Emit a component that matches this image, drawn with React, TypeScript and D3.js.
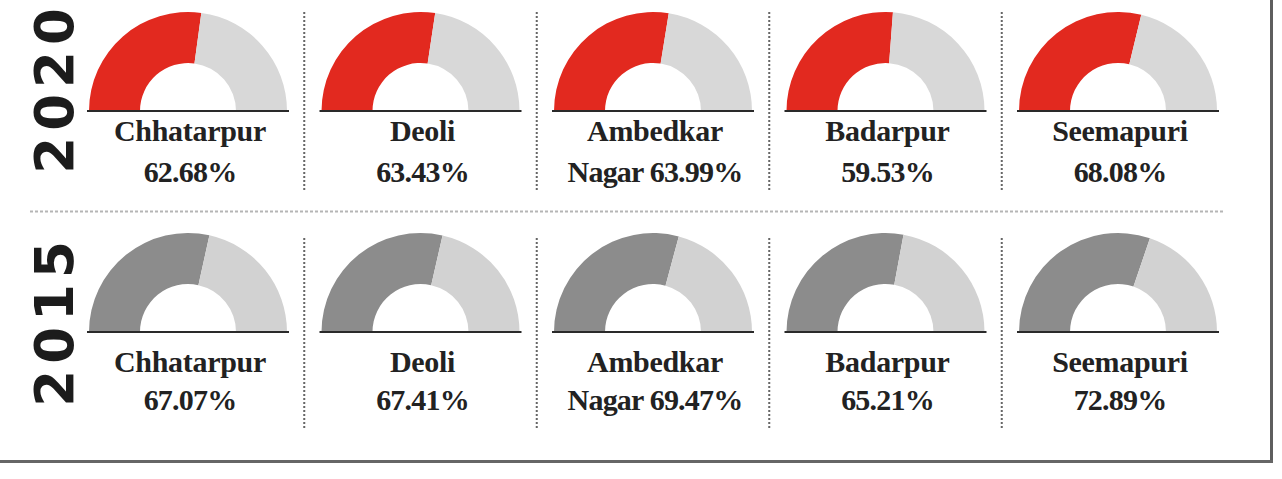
import React from "react";
import * as d3 from "d3";

const years = ["2020", "2015"];
const constituencies = ["Chhatarpur", "Deoli", "Ambedkar Nagar", "Badarpur", "Seemapuri"];
const turnout2020 = [62.68, 63.43, 63.99, 59.53, 68.08];
const turnout2015 = [67.07, 67.41, 69.47, 65.21, 72.89];
const turnoutByYear = [turnout2020, turnout2015];

const W = 1282;
const H = 479;
const fillColors = ["#e2291f", "#8c8c8c"];
const restColors = ["#d8d8d8", "#d2d2d2"];

export default function App() {
  const x = d3.scalePoint<string>().domain(constituencies).range([188, 1118]);
  const rowBase = d3.scalePoint<string>().domain(years).range([111, 332]);
  // gauge calibration (split angles as drawn)
  const angle = d3.scaleLinear().domain([-27.4, 138.5]).range([-Math.PI / 2, Math.PI / 2]);
  const outerR = 99;
  const innerR = 48;
  const arc = d3.arc<{ s: number; e: number }>()
    .innerRadius(innerR)
    .outerRadius(outerR)
    .startAngle((d) => d.s)
    .endAngle((d) => d.e);

  const step = x.step();
  const seps = constituencies.slice(0, -1).map((c) => (x(c) as number) + step / 2);
  const nameOffset = 30;
  const pctOffset = 71;
  const rowSepRanges = [
    [12, 190],
    [238, 428],
  ];

  return (
    <svg
      width={W}
      height={H}
      style={{ position: "absolute", left: 0, top: 0, display: "block", background: "#fff" }}
    >
      <rect x={0} y={0} width={W} height={H} fill="#fff" />
      {/* frame */}
      <line x1={1271.5} y1={0} x2={1271.5} y2={463} stroke="#5e5e5e" strokeWidth={3} />
      <line x1={0} y1={461.5} x2={1273} y2={461.5} stroke="#666" strokeWidth={3} />
      {/* horizontal separator */}
      <line x1={30} y1={211.5} x2={1224} y2={211.5} stroke="#b5b5b5" strokeWidth={2} strokeDasharray="3 2" />
      {years.map((yr, ri) => {
        const base = rowBase(yr) as number;
        const vals = turnoutByYear[ri];
        const [sy0, sy1] = rowSepRanges[ri];
        return (
          <g key={yr}>
            <text
              transform={`translate(73, ${ri === 0 ? 88 : 321}) rotate(-90)`}
              textAnchor="middle"
              fontFamily="'DejaVu Sans', sans-serif"
              fontWeight="bold"
              fontSize={53}
              letterSpacing={6}
              fill="#1c1c1c"
            >
              {yr}
            </text>
            {seps.map((sx, i) => (
              <line
                key={i}
                x1={sx}
                x2={sx}
                y1={sy0}
                y2={sy1}
                stroke="#666"
                strokeWidth={2}
                strokeDasharray="2 2"
              />
            ))}
            {constituencies.map((c, i) => {
              const cx = x(c) as number;
              const v = vals[i];
              const a = angle(v);
              const words = c.split(" ");
              const line1 = words[0];
              const line2 = (words.length > 1 ? words.slice(1).join(" ") + " " : "") + v.toFixed(2) + "%";
              return (
                <g key={c}>
                  <g transform={`translate(${cx}, ${base})`}>
                    <path d={arc({ s: -Math.PI / 2, e: a }) as string} fill={fillColors[ri]} />
                    <path d={arc({ s: a, e: Math.PI / 2 }) as string} fill={restColors[ri]} />
                    <line x1={-outerR - 2} x2={outerR + 2} y1={0} y2={0} stroke="#2a2a2a" strokeWidth={2} />
                  </g>
                  <text
                    x={cx + 2}
                    y={base + nameOffset + (ri === 1 ? 10 : 0)}
                    textAnchor="middle"
                    fontFamily="'Liberation Serif', serif"
                    fontWeight="bold"
                    fontSize={30}
                    letterSpacing={-0.3}
                    fill="#222"
                  >
                    {line1}
                  </text>
                  <text
                    x={cx + 2}
                    y={base + pctOffset + (ri === 1 ? 7 : 0)}
                    textAnchor="middle"
                    fontFamily="'Liberation Serif', serif"
                    fontWeight="bold"
                    fontSize={30}
                    letterSpacing={-0.8}
                    fill="#222"
                  >
                    {line2}
                  </text>
                </g>
              );
            })}
          </g>
        );
      })}
    </svg>
  );
}
